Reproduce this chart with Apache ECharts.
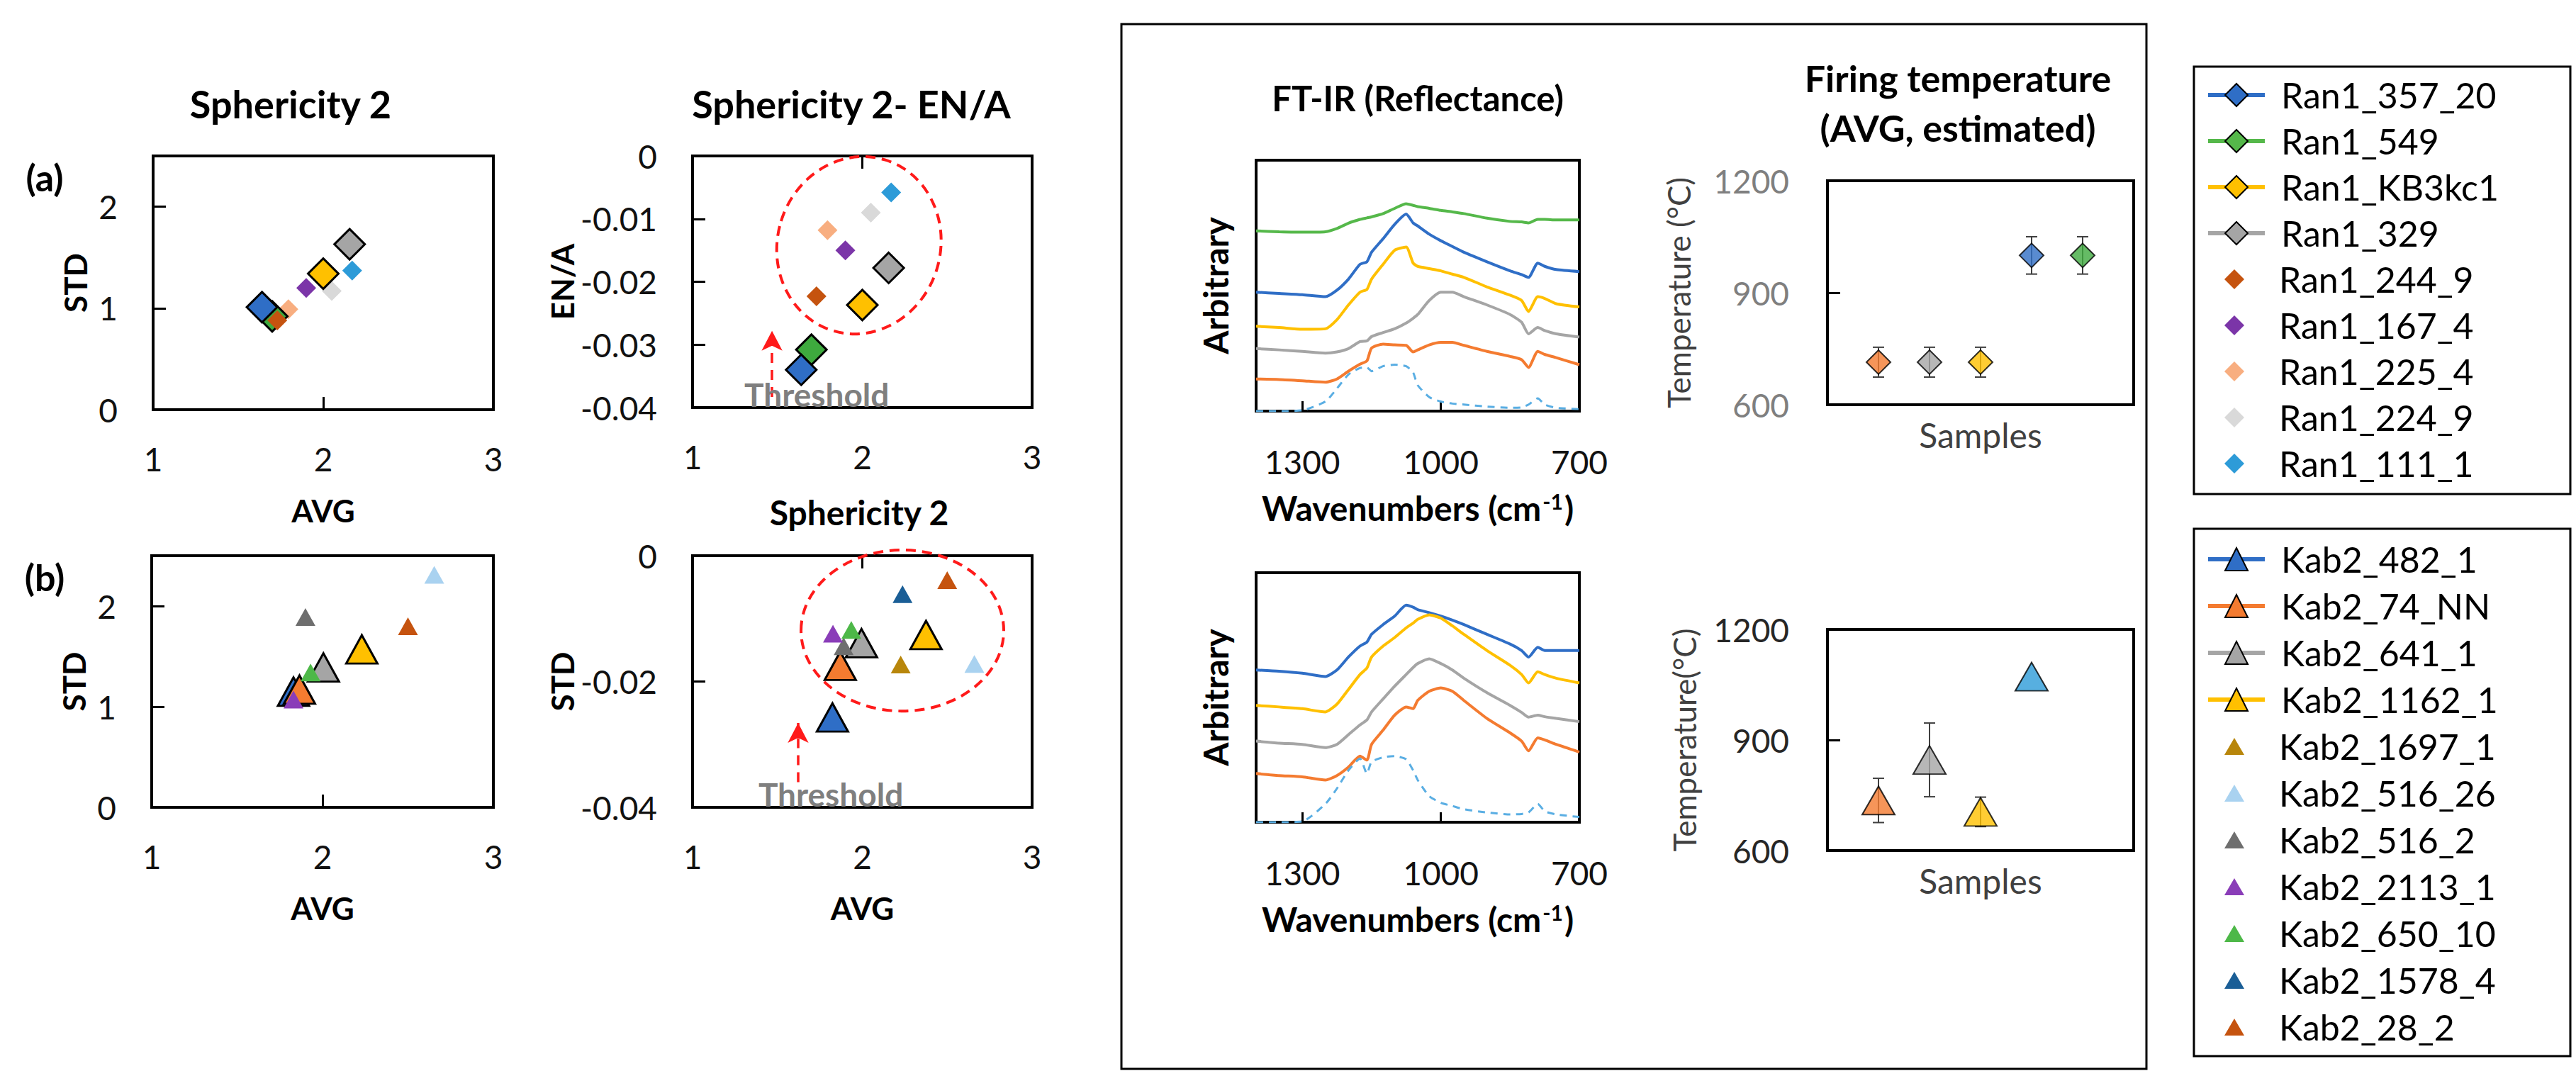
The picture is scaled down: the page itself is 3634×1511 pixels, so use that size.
<!DOCTYPE html>
<html><head><meta charset="utf-8">
<script src="https://cdn.jsdelivr.net/npm/echarts@6/dist/echarts.min.js"></script>
<style>html,body{margin:0;padding:0;background:#fff;}#c{width:3634px;height:1511px;}</style>
</head><body><div id="c"></div>
<script>
// ================= DATA =================
const ran1Names = ['Ran1_357_20','Ran1_549','Ran1_KB3kc1','Ran1_329','Ran1_244_9','Ran1_167_4','Ran1_225_4','Ran1_224_9','Ran1_111_1'];
const ran1Avg   = [1.64, 1.70, 2.00, 2.155, 1.73, 1.90, 1.795, 2.05, 2.17];
const ran1Std   = [1.01, 0.92, 1.34, 1.63, 0.88, 1.20, 0.99, 1.17, 1.37];
const ran1EnA   = [-0.0340, -0.0308, -0.0237, -0.0178, -0.0223, -0.0150, -0.0118, -0.0090, -0.0058];

const kab2Names = ['Kab2_482_1','Kab2_74_NN','Kab2_641_1','Kab2_1162_1','Kab2_1697_1','Kab2_516_26','Kab2_516_2','Kab2_2113_1','Kab2_650_10','Kab2_1578_4','Kab2_28_2'];
const kab2AvgL  = [1.83, 1.865, 2.005, 2.23, 2.22, 2.654, 1.90, 1.83, 1.93, 2.24, 2.50];
const kab2StdL  = [1.15, 1.17, 1.39, 1.57, 1.55, 2.31, 1.89, 1.07, 1.34, 1.53, 1.80];
const kab2AvgR  = [1.824, 1.87, 1.995, 2.375, 2.226, 2.66, 1.89, 1.827, 1.935, 2.237, 2.50];
const kab2EnA   = [-0.0257, -0.0175, -0.0139, -0.0126, -0.0173, -0.0172, -0.0144, -0.0124, -0.0118, -0.0061, -0.0039];

// FT-IR spectra (wavenumber in cm-1, arbitrary intensity)
const wn = [1400,1350,1300,1250,1225,1200,1175,1160,1150,1125,1100,1075,1060,1050,1025,1000,975,950,900,850,825,810,790,775,750,700];
const ftirA_green  = [71.8,71.5,71.3,71.5,72.8,74.9,76.4,77.0,77.4,78.7,80.8,82.6,82.0,81.5,80.8,80.0,79.4,78.7,76.9,75.6,75.4,75.0,76.4,76.4,76.2,76.2];
const ftirA_blue   = [47.4,46.9,46.4,45.6,48.2,52.6,58.5,59.5,63.3,68.7,74.4,78.5,75.0,73.8,70.5,67.9,65.6,63.3,59.5,55.9,54.4,53.3,59.0,57.7,56.4,55.6];
const ftirA_yellow = [33.8,33.3,32.6,32.8,36.4,42.3,47.4,48.5,52.6,58.5,64.1,65.4,59.0,57.7,56.8,55.9,54.6,53.3,49.5,46.2,44.1,39.7,45.6,44.9,42.8,41.5];
const ftirA_gray   = [24.9,24.4,23.8,23.1,23.6,24.9,27.7,28.0,29.7,31.3,32.8,35.1,37.0,38.5,44.1,47.4,47.4,45.6,42.3,38.5,35.4,30.8,33.3,32.1,30.8,29.5];
const ftirA_orange = [12.8,12.6,12.1,11.5,12.8,15.9,18.7,20.0,25.1,26.7,26.4,26.2,23.6,24.4,26.4,27.4,27.4,26.2,23.8,21.8,20.5,17.4,23.8,22.6,21.3,18.5];
const ftirA_ref    = [0,0,0.3,3.8,9.0,14.6,17.2,17.4,15.9,17.9,18.5,17.9,15.4,10.3,5.6,3.8,3.0,2.6,1.8,1.3,1.5,2.6,5.1,2.6,1.3,0.8];
const ftirB_blue   = [61.0,60.5,59.7,58.4,61.0,66.2,70.6,72.2,75.3,79.2,82.6,87.0,86.2,85.2,84.0,82.6,81.0,79.2,75.3,71.4,68.8,66.2,70.1,68.8,68.8,68.8];
const ftirB_yellow = [46.8,46.2,45.5,44.2,47.3,53.2,59.2,61.8,66.2,70.6,74.0,77.9,79.8,81.3,83.1,81.8,78.7,75.3,68.8,62.9,59.2,55.8,60.3,59.2,57.7,55.8];
const ftirB_gray   = [32.5,31.7,31.2,29.9,31.2,35.1,39.0,41.0,44.2,49.4,54.5,59.2,62.0,63.6,65.5,63.6,61.0,57.7,51.9,46.8,44.0,42.1,42.9,42.3,41.6,40.3];
const ftirB_orange = [19.5,18.7,18.2,16.9,18.7,22.1,26.5,24.9,31.2,36.9,42.9,46.2,45.5,48.8,52.5,53.8,52.5,48.8,41.6,35.8,32.5,28.6,33.8,33.0,31.2,28.1];
const ftirB_ref    = [0,0,0.3,7.3,13.5,20.8,25.5,19.5,24.2,26.0,26.5,25.2,20.8,16.9,10.4,7.8,6.5,5.2,3.9,3.1,3.3,3.9,7.3,4.4,3.1,2.1];
const ftirTicks = [700, 1000, 1300];

// Firing temperature (AVG, estimated)
const firingA_sample = [1, 2, 3, 4, 5];
const firingA_T      = [714, 714, 714, 1000, 1000];
const firingA_err    = [40, 40, 40, 50, 50];
const firingB_sample = [1, 2, 3, 4];
const firingB_T      = [736, 846, 705, 1072];
const firingB_err    = [60, 100, 40, 0];

// Annotations (data units)
const thresholdA = {x: 1.468, y0: -0.0383, y1: -0.0278, textX: 1.305, textY: -0.0379};
const thresholdB = {x: 1.622, y0: -0.0360, y1: -0.0266, textX: 1.388, textY: -0.0379};
const clusterA = {cx: 1.98, cy: -0.0142, rx: 0.48, ry: 0.0142, rot: -0.3};
const clusterB = {cx: 2.236, cy: -0.0119, rx: 0.597, ry: 0.0128, rot: 0};

// ================= STYLE =================
const ran1Colors = ['#2F6EC6','#3EAA3E','#FFC000','#A5A5A5','#C5530F','#7B35A8','#F8AE80','#D9D9D9','#2D9BD8'];
const kab2Colors = ['#2F6EC6','#F47B30','#A5A5A5','#FFC000','#B8860B','#A9D2F0','#6E6E6E','#8A3DB8','#4DB848','#1A5E96','#C5530F'];
const firingA_colors = ['#F47B30','#A5A5A5','#FFC000','#2F6EC6','#3EAA3E'];
const firingB_colors = ['#F47B30','#A5A5A5','#FFC000','#2D9BD8'];
const ran1Order = [6,7,8,5,1,4,0,2,3];
const kab2Order = [4,9,0,1,2,3,5,6,7,8,10];
const F = 'Lato, "Open Sans", sans-serif';
const RED = '#FF1A1A';
const ICON_DIAMOND_S = 'path://M0,0M80,40M40,6L54,20L40,34L26,20Z';
const ICON_TRIANGLE_S = 'path://M0,0M80,40M40,8L54,32L26,32Z';

const chart = echarts.init(document.getElementById('c'), null, {renderer: 'svg'});

const grids = [
  {left: 216, top: 220, width: 480, height: 358},   // 0 a: STD
  {left: 977, top: 220, width: 479, height: 355},   // 1 a: EN/A
  {left: 214, top: 784, width: 482, height: 355},   // 2 b: STD
  {left: 977, top: 784, width: 479, height: 355},   // 3 b: EN/A
  {left: 1772, top: 226, width: 456, height: 354},  // 4 FT-IR a
  {left: 1772, top: 808, width: 456, height: 352},  // 5 FT-IR b
  {left: 2578, top: 255, width: 432, height: 316},  // 6 firing a
  {left: 2578, top: 888, width: 432, height: 312}   // 7 firing b
].map(g => Object.assign({show: true, borderColor: '#000', borderWidth: 4, backgroundColor: 'transparent', containLabel: false}, g));

const lbl = (o) => Object.assign({fontFamily: F, fontSize: 46, color: '#111'}, o || {});
const tickIn = {show: true, inside: true, length: 18, lineStyle: {color: '#000', width: 3}};
const plain = v => String(v);

function avgAxis(gi, withTick, withName) {
  const a = {gridIndex: gi, type: 'value', min: 1, max: 3, interval: 1, position: 'bottom',
    axisLine: {show: false}, splitLine: {show: false},
    axisTick: withTick ? tickIn : {show: false},
    axisLabel: lbl({margin: 46})};
  if (withName) Object.assign(a, {name: 'AVG', nameLocation: 'middle', nameGap: 120,
    nameTextStyle: {fontFamily: F, fontSize: 44, fontWeight: 'bold', color: '#000'}});
  return a;
}
function topTickAxis(gi) {
  return {gridIndex: gi, type: 'value', min: 1, max: 3, interval: 1, position: 'top',
    axisLine: {show: false}, splitLine: {show: false}, axisTick: tickIn, axisLabel: {show: false}};
}
function yAxisOf(gi, min, max, interval, name, fmt) {
  return {gridIndex: gi, type: 'value', min, max, interval,
    axisLine: {show: false}, splitLine: {show: false}, axisTick: tickIn,
    axisLabel: lbl({margin: 50, formatter: fmt}),
    name, nameLocation: 'middle', nameGap: 88, nameRotate: 90,
    nameTextStyle: {fontFamily: F, fontSize: 44, fontWeight: 'bold', color: '#000'}};
}
const intFmt = v => (Math.abs(v - Math.round(v)) < 1e-9 ? String(Math.round(v)) : '');

const ftirX = (gi) => ({gridIndex: gi, type: 'value', min: 700, max: 1400, inverse: true,
  axisLine: {show: false}, splitLine: {show: false},
  axisTick: {show: true, inside: true, length: 14, customValues: [1000, 1300], lineStyle: {color: '#000', width: 3}},
  axisLabel: lbl({margin: 48, customValues: ftirTicks, formatter: plain}),
  name: '{b|Wavenumbers (cm}{s|-1}{b|)}', nameLocation: 'middle', nameGap: 112,
  nameTextStyle: {rich: {b: {fontFamily: F, fontSize: 48, fontWeight: 'bold', color: '#000'},
                          s: {fontFamily: F, fontSize: 30, fontWeight: 'bold', color: '#000', verticalAlign: 'top', padding: [0, 2, 0, 2]}}}});
const ftirY = (gi) => ({gridIndex: gi, type: 'value', min: 0, max: 100,
  axisLine: {show: false}, splitLine: {show: false}, axisTick: {show: false}, axisLabel: {show: false},
  name: 'Arbitrary', nameLocation: 'middle', nameGap: 34, nameRotate: 90,
  nameTextStyle: {fontFamily: F, fontSize: 48, fontWeight: 'bold', color: '#000'}});
const fireX = (gi) => ({gridIndex: gi, type: 'value', min: 0, max: 6,
  axisLine: {show: false}, splitLine: {show: false}, axisTick: {show: false}, axisLabel: {show: false},
  name: 'Samples', nameLocation: 'middle', nameGap: 18,
  nameTextStyle: {fontFamily: F, fontSize: 48, color: '#404040'}});
const fireY = (gi, name, col, gap) => ({gridIndex: gi, type: 'value', min: 600, max: 1200, interval: 300,
  axisLine: {show: false}, splitLine: {show: false}, axisTick: tickIn,
  axisLabel: lbl({margin: 54, color: col, formatter: plain}),
  name, nameLocation: 'middle', nameGap: gap, nameRotate: 90,
  nameTextStyle: {fontFamily: F, fontSize: 44, color: '#404040'}});

const xAxis = [
  avgAxis(0, true, true),   // 0
  avgAxis(1, false, false), // 1
  topTickAxis(1),           // 2
  avgAxis(2, true, true),   // 3
  avgAxis(3, false, true),  // 4
  topTickAxis(3),           // 5
  ftirX(4),                 // 6
  ftirX(5),                 // 7
  fireX(6),                 // 8
  fireX(7)                  // 9
];
const yAxis = [
  yAxisOf(0, 0, 2.5, 1, 'STD', intFmt),
  yAxisOf(1, -0.04, 0, 0.01, 'EN/A'),
  yAxisOf(2, 0, 2.5, 1, 'STD', intFmt),
  yAxisOf(3, -0.04, 0, 0.02, 'STD'),
  ftirY(4), ftirY(5),
  fireY(6, 'Temperature (°C)', '#7F7F7F', 188),
  fireY(7, 'Temperature(°C)', '#262626', 180)
];

const series = [];
function ftirLine(name, arr, color, xi, yi, sym, dashed) {
  series.push({name, type: 'line', xAxisIndex: xi, yAxisIndex: yi, data: wn.map((w, i) => [w, arr[i]]),
    showSymbol: false, symbol: sym, symbolSize: 30, smooth: 0.2, silent: true,
    itemStyle: {color, borderColor: '#000', borderWidth: 2},
    lineStyle: {color, width: dashed ? 3 : 4, type: dashed ? [10, 8] : 'solid'}});
}
// FT-IR lines first (they provide the line+marker legend icons)
ftirLine('Ran1_549', ftirA_green, '#55B84A', 6, 4, 'diamond');
ftirLine('Ran1_357_20', ftirA_blue, '#2F6EC6', 6, 4, 'diamond');
ftirLine('Ran1_KB3kc1', ftirA_yellow, '#FFC000', 6, 4, 'diamond');
ftirLine('Ran1_329', ftirA_gray, '#A5A5A5', 6, 4, 'diamond');
ftirLine('FT-IR orange (a)', ftirA_orange, '#F47B30', 6, 4, 'none');
ftirLine('Reference (a)', ftirA_ref, '#5AAEE3', 6, 4, 'none', true);
ftirLine('Kab2_482_1', ftirB_blue, '#2F6EC6', 7, 5, 'triangle');
ftirLine('Kab2_1162_1', ftirB_yellow, '#FFC000', 7, 5, 'triangle');
ftirLine('Kab2_641_1', ftirB_gray, '#A5A5A5', 7, 5, 'triangle');
ftirLine('Kab2_74_NN', ftirB_orange, '#F47B30', 7, 5, 'triangle');
ftirLine('Reference (b)', ftirB_ref, '#5AAEE3', 7, 5, 'none', true);

function pts(name, color, big, shape, x, y, xi, yi) {
  const size = shape === 'diamond' ? (big ? 43 : 28) : (big ? [44, 40] : [28, 25]);
  series.push({name, type: 'scatter', xAxisIndex: xi, yAxisIndex: yi, data: [[x, y]],
    symbol: shape, symbolSize: size, silent: true,
    itemStyle: {color, opacity: 1, borderColor: big ? '#000' : color, borderWidth: big ? 3 : 0}});
}
ran1Order.forEach(i => pts(ran1Names[i], ran1Colors[i], i < 4, 'diamond', ran1Avg[i], ran1Std[i], 0, 0));
ran1Order.forEach(i => pts(ran1Names[i], ran1Colors[i], i < 4, 'diamond', ran1Avg[i], ran1EnA[i], 1, 1));
kab2Order.forEach(i => pts(kab2Names[i], kab2Colors[i], i < 4, 'triangle', kab2AvgL[i], kab2StdL[i], 3, 2));
kab2Order.forEach(i => pts(kab2Names[i], kab2Colors[i], i < 4, 'triangle', kab2AvgR[i], kab2EnA[i], 4, 3));

// Threshold arrows
function arrow(name, t, xi, yi) {
  series.push({name, type: 'scatter', xAxisIndex: xi, yAxisIndex: yi, data: [], silent: true,
    markLine: {silent: true, animation: false, symbol: ['none', 'arrow'], symbolSize: [22, 28],
      label: {show: false}, lineStyle: {color: RED, width: 3.5, type: [14, 10]},
      data: [[{coord: [t.x, t.y0]}, {coord: [t.x, t.y1]}]]}});
}
arrow('Threshold (a)', thresholdA, 1, 1);
arrow('Threshold (b)', thresholdB, 4, 3);

// Firing temperature: error bars + markers
function errBars(name, xs, ts, es, xi, yi) {
  series.push({name, type: 'custom', xAxisIndex: xi, yAxisIndex: yi, silent: true,
    data: xs.map((x, i) => [x, ts[i], es[i]]),
    renderItem: (params, api) => {
      const x = api.value(0), y = api.value(1), e = api.value(2);
      if (!e) return null;
      const a = api.coord([x, y + e]), b = api.coord([x, y - e]);
      const st = {stroke: '#404040', lineWidth: 2};
      return {type: 'group', children: [
        {type: 'line', shape: {x1: a[0], y1: a[1], x2: b[0], y2: b[1]}, style: st},
        {type: 'line', shape: {x1: a[0] - 8, y1: a[1], x2: a[0] + 8, y2: a[1]}, style: st},
        {type: 'line', shape: {x1: b[0] - 8, y1: b[1], x2: b[0] + 8, y2: b[1]}, style: st}]};
    }});
}
errBars('Firing error (a)', firingA_sample, firingA_T, firingA_err, 8, 6);
errBars('Firing error (b)', firingB_sample, firingB_T, firingB_err, 9, 7);
series.push({name: 'Firing temperature (a)', type: 'scatter', xAxisIndex: 8, yAxisIndex: 6, silent: true,
  symbol: 'diamond', symbolSize: 34,
  data: firingA_sample.map((x, i) => ({value: [x, firingA_T[i]], itemStyle: {color: firingA_colors[i], borderColor: '#000', borderWidth: 2}}))});
series.push({name: 'Firing temperature (b)', type: 'scatter', xAxisIndex: 9, yAxisIndex: 7, silent: true,
  symbol: 'triangle', symbolSize: [46, 40],
  data: firingB_sample.map((x, i) => ({value: [x, firingB_T[i]], itemStyle: {color: firingB_colors[i], borderColor: '#000', borderWidth: 2}}))});

const legTxt = {fontFamily: F, fontSize: 50, color: '#000', lineHeight: 50, padding: [0, 0, 0, 18]};
const legBase = {orient: 'vertical', left: 3112, itemWidth: 80, itemHeight: 40, selectedMode: false, textStyle: legTxt, padding: 0};
const legend = [
  Object.assign({}, legBase, {top: 109, itemGap: 15, data: ran1Names.slice(0, 4),
    itemStyle: {borderColor: '#000', borderWidth: 2}, lineStyle: {width: 6}}),
  Object.assign({}, legBase, {top: 109 + 4 * 65, itemGap: 15, itemStyle: {borderWidth: 0},
    data: ran1Names.slice(4).map(n => ({name: n, icon: ICON_DIAMOND_S}))}),
  Object.assign({}, legBase, {top: 764, itemGap: 16, data: kab2Names.slice(0, 4),
    itemStyle: {borderColor: '#000', borderWidth: 2}, lineStyle: {width: 6}}),
  Object.assign({}, legBase, {top: 764 + 4 * 66, itemGap: 16, itemStyle: {borderWidth: 0},
    data: kab2Names.slice(4).map(n => ({name: n, icon: ICON_TRIANGLE_S}))})
];

chart.setOption({animation: false, backgroundColor: '#fff', textStyle: {fontFamily: F},
  grid: grids, xAxis, yAxis, series, legend});

// ---------- annotations & frame texts ----------
function px(si, v) { return chart.convertToPixel({seriesIndex: si}, v); }
const siA = series.findIndex(s => s.xAxisIndex === 1 && s.type === 'scatter');
const siB = series.findIndex(s => s.xAxisIndex === 4 && s.type === 'scatter');
function ellipse(si, e) {
  const c = px(si, [e.cx, e.cy]);
  const rx = px(si, [e.cx + e.rx, e.cy])[0] - c[0];
  const ry = c[1] - px(si, [e.cx, e.cy + e.ry])[1];
  return {type: 'ellipse', x: c[0], y: c[1], rotation: e.rot, silent: true, z: 50,
    shape: {cx: 0, cy: 0, rx, ry}, style: {fill: 'none', stroke: RED, lineWidth: 4, lineDash: [14, 9]}};
}
function thrText(si, t) {
  const p = px(si, [t.textX, t.textY]);
  return {type: 'text', x: p[0], y: p[1], z: 40, silent: true,
    style: {text: 'Threshold', fill: '#7F7F7F', font: 'bold 46px ' + F, align: 'left', verticalAlign: 'middle'}};
}
const T = (text, x, y, size, extra) => Object.assign({type: 'text', x, y, silent: true,
  style: Object.assign({text, fill: '#000', font: 'bold ' + size + 'px ' + F, align: 'center', verticalAlign: 'middle'}, extra || {})});
const box = (x, y, w, h) => ({type: 'rect', silent: true, z: 1, shape: {x, y, width: w, height: h},
  style: {fill: 'none', stroke: '#000', lineWidth: 3}});

chart.setOption({graphic: [
  box(1582, 34, 1446, 1474),
  box(3095, 94, 531, 603),
  box(3095, 746, 531, 744),
  T('(a)', 63, 250, 52),
  T('(b)', 63, 814, 52),
  T('Sphericity 2', 410, 146, 54),
  T('Sphericity 2- EN/A', 1201, 146, 54),
  T('Sphericity 2', 1212, 722, 48),
  T('FT-IR (Reflectance)', 2000, 138, 49),
  T('Firing temperature\n(AVG, estimated)', 2762, 145, 52, {lineHeight: 70}),
  thrText(siA, thresholdA),
  thrText(siB, thresholdB),
  ellipse(siA, clusterA),
  ellipse(siB, clusterB)
]});
</script>
</body></html>
